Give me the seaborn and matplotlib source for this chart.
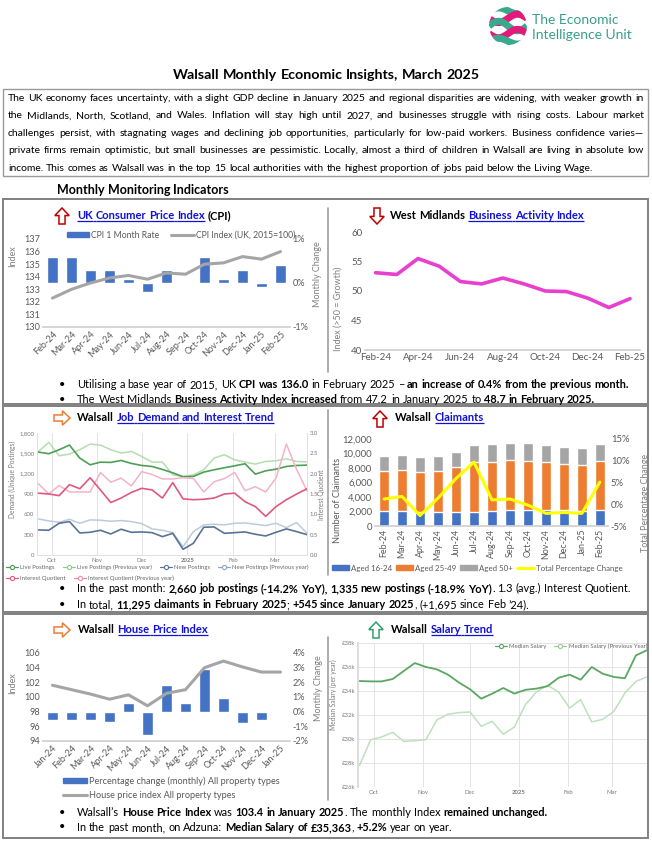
import numpy as np
import pandas as pd
import matplotlib
matplotlib.use('Agg')
import matplotlib.pyplot as plt
from matplotlib.patches import Rectangle, Polygon, Circle
from matplotlib.lines import Line2D
import seaborn as sns

# ---------------- data ----------------
cpi_months = ['Feb-24', 'Mar-24', 'Apr-24', 'May-24', 'Jun-24', 'Jul-24', 'Aug-24',
              'Sep-24', 'Oct-24', 'Nov-24', 'Dec-24', 'Jan-25', 'Feb-25']
cpi_rate = [0.6, 0.6, 0.3, 0.3, 0.1, -0.2, 0.3, 0.0, 0.6, 0.1, 0.3, -0.1, 0.4]
cpi_index = [132.3, 133.0, 133.5, 133.9, 134.1, 133.8, 134.3, 134.2, 135.0, 135.1, 135.6, 135.4, 136.0]

bai_months = cpi_months
bai_values = [53.1, 52.8, 55.5, 54.2, 51.6, 51.2, 52.2, 51.2, 50.0, 49.9, 48.8, 47.2, 48.7]

week_dates = ['2024-09-22', '2024-09-29', '2024-10-06', '2024-10-13', '2024-10-20', '2024-10-27',
              '2024-11-03', '2024-11-10', '2024-11-17', '2024-11-24', '2024-12-01', '2024-12-08',
              '2024-12-15', '2024-12-22', '2024-12-29', '2025-01-05', '2025-01-12', '2025-01-19',
              '2025-01-26', '2025-02-02', '2025-02-09', '2025-02-16', '2025-02-23', '2025-03-02',
              '2025-03-09', '2025-03-16', '2025-03-23']
live_postings = [1518, 1494, 1553, 1622, 1430, 1331, 1370, 1366, 1395, 1351, 1321, 1306, 1262, 1213,
                 1154, 1159, 1223, 1257, 1287, 1316, 1346, 1193, 1242, 1267, 1306, 1321, 1326]
live_postings_prev = [1528, 1661, 1464, 1489, 1553, 1637, 1622, 1553, 1504, 1528, 1454, 1370, 1370, 1183,
                      1159, 1183, 1257, 1430, 1479, 1405, 1370, 1341, 1380, 1390, 1420, 1380, 1375]
new_postings = [370, 365, 468, 493, 325, 335, 365, 311, 380, 335, 340, 330, 271, 320,
                84, 173, 409, 414, 320, 330, 340, 306, 281, 335, 385, 345, 300]
new_postings_prev = [532, 503, 483, 527, 468, 518, 513, 498, 508, 493, 463, 385, 365, 330,
                     123, 345, 444, 454, 444, 468, 473, 454, 434, 468, 404, 478, 320]
interest_q = [1.52, 1.50, 1.46, 1.73, 1.63, 1.90, 1.60, 1.29, 1.40, 1.54, 1.64, 1.60, 1.40, 1.78,
              1.38, 1.36, 1.37, 1.40, 1.50, 1.52, 1.31, 1.19, 0.95, 1.19, 1.36, 1.50, 1.63]
interest_q_prev = [1.75, 1.50, 1.71, 1.55, 1.55, 1.55, 2.03, 1.79, 1.89, 1.70, 2.05, 1.98, 1.87, 1.87,
                   1.90, 1.88, 1.55, 1.80, 1.88, 2.03, 1.58, 1.68, 1.55, 1.89, 2.73, 2.10, 1.58]

claim_months = cpi_months
claim_16_24 = [2080, 2080, 1990, 1990, 1990, 1990, 2080, 2210, 2210, 2210, 2170, 2080, 2210]
claim_25_49 = [5530, 5670, 5490, 5630, 6090, 6780, 6780, 6830, 6700, 6560, 6410, 6370, 6700]
claim_50_plus = [1990, 2030, 2030, 1980, 2080, 2400, 2400, 2400, 2490, 2400, 2350, 2300, 2385]
claim_pct_change = [1.2, 1.8, -2.6, 1.4, 5.9, 9.7, 1.0, 1.2, -0.2, -2.1, -1.9, -2.1, 5.1]

hpi_months = ['Jan-24', 'Feb-24', 'Mar-24', 'Apr-24', 'May-24', 'Jun-24', 'Jul-24',
              'Aug-24', 'Sep-24', 'Oct-24', 'Nov-24', 'Dec-24', 'Jan-25']
hpi_change = [-0.6, -0.6, -0.6, -0.7, 0.6, -1.6, 1.8, 0.6, 2.9, 0.9, -0.8, -0.6, -0.1]
hpi_index = [101.6, 101.0, 100.4, 99.7, 100.3, 98.8, 100.5, 101.0, 104.0, 104.9, 104.1, 103.4, 103.4]

salary_median = [34.83, 34.8, 34.8, 35.0, 35.67, 36.33, 36.0, 35.8, 35.36, 34.7, 34.14, 33.36, 33.78,
                 34.25, 33.78, 34.1, 34.2, 34.4, 35.1, 35.36, 34.94, 36.0, 35.44, 35.17, 35.06, 36.97, 37.4]
salary_median_prev = [27.8, 29.94, 30.17, 30.56, 29.8, 29.86, 29.94, 31.6, 32.06, 32.2, 32.25, 31.06, 31.47,
                      30.39, 31.0, 32.86, 33.92, 34.47, 33.92, 32.58, 33.28, 31.42, 31.64, 32.3, 33.83, 34.8, 35.17]

# ---------------- setup ----------------
sns.set_theme(style='white')
plt.rcParams['font.family'] = ['Lato', 'DejaVu Sans']
plt.rcParams['axes.unicode_minus'] = False

W, H = 652, 841
fig = plt.figure(figsize=(W / 100, H / 100), dpi=100)
fig.patch.set_facecolor('white')
ov = fig.add_axes([0, 0, 1, 1], zorder=10)
ov.set_xlim(0, W)
ov.set_ylim(H, 0)
ov.axis('off')
ov.patch.set_visible(False)
renderer = fig.canvas.get_renderer()

BLUE = '#4472C4'
ORANGE = '#ED7D31'
GREY = '#A5A5A5'
LINK = '#1010D8'
TICK = '#595959'


def px_axes(l, t, r, b):
    return fig.add_axes([l / W, 1 - b / H, (r - l) / W, (b - t) / H])


_cache = {}


def tw(s, fs, bold):
    key = (s, round(fs, 4), bold)
    if key not in _cache:
        t = ov.text(0, 0, s, fontsize=fs, fontweight='bold' if bold else 'normal')
        _cache[key] = t.get_window_extent(renderer).width
        t.remove()
    return _cache[key]


def adv(s, fs, b):
    return tw('n' + s + 'n', fs, b) - tw('nn', fs, b)


def spw(fs, b):
    return tw('n n', fs, b) - tw('nn', fs, b)


def items_of(segs):
    out = []
    pending = 0
    for text, st in segs:
        for i, c in enumerate(text.split(' ')):
            if i > 0:
                pending += 1
            if c:
                out.append((c, st, pending if out else 0))
                pending = 0
    return out


def natural(segs, fs):
    its = items_of(segs)
    return sum(adv(c, fs, st.get('b', False)) + n * spw(fs, st.get('b', False)) for c, st, n in its)


def rich(x, yc, segs, fs, width=None):
    its = items_of(segs)
    nsp = sum(n for _, _, n in its)
    extra = (width - natural(segs, fs)) / nsp if (width is not None and nsp) else 0.0
    fpx = fs * 100 / 72
    yb = yc + 0.36 * fpx
    uly = yb + 0.14 * fpx
    cx = x
    prev_ul = False
    for c, st, n in its:
        b = st.get('b', False)
        col = st.get('c', 'black')
        if n:
            gap = n * spw(fs, b) + n * extra
            if prev_ul and st.get('ul'):
                ov.plot([cx, cx + gap], [uly, uly], color=col, lw=0.9, solid_capstyle='butt')
            cx += gap
        a = adv(c, fs, b)
        ov.text(cx, yb, c, fontsize=fs, fontweight='bold' if b else 'normal',
                color=col, va='baseline', ha='left')
        if st.get('ul'):
            ov.plot([cx, cx + a], [uly, uly], color=col, lw=0.9, solid_capstyle='butt')
        cx += a
        prev_ul = st.get('ul', False)
    return cx


def fit(segs, target):
    fs = 10 * target / natural(segs, 10)
    for _ in range(2):
        fs = fs * target / natural(segs, fs)
    return fs


R = {}
B = {'b': True}
L = {'b': True, 'c': LINK, 'ul': True}

# ---------------- logo ----------------
lax = px_axes(489, 7, 527, 45)
lax.set_xlim(-1, 1)
lax.set_ylim(-1, 1)
lax.axis('off')
circ = Circle((0, 0), 1, transform=lax.transData, facecolor='none', edgecolor='none')
lax.add_patch(circ)
xs = np.linspace(-1, 1, 60)
TEAL = '#3AAA8F'
MAG = '#E5197A'
for y0, col, amp in [(0.8, TEAL, -0.15), (0.4, MAG, 0.22), (0.0, TEAL, -0.25),
                     (-0.4, MAG, 0.22), (-0.8, TEAL, -0.15)]:
    ln, = lax.plot(xs, y0 + amp * np.sin(np.pi * xs), color=col, lw=5.0, solid_capstyle='butt')
    ln.set_clip_path(circ)
ov.text(532, 20, 'The Economic', fontsize=10, color='#3A9E8C', va='center', ha='left')
ov.text(532, 35, 'Intelligence Unit', fontsize=10, color='#3A9E8C', va='center', ha='left')

# ---------------- header text ----------------
title_segs = [('Walsall Monthly Economic Insights, March 2025', B)]
rich(173, 74, title_segs, fit(title_segs, 308))

ov.add_patch(Rectangle((3, 89), 645, 87, facecolor='none', edgecolor='#9a9a9a', lw=1.0))
para = [
    'The UK economy faces uncertainty, with a slight GDP decline in January 2025 and regional disparities are widening, with weaker growth in',
    'the Midlands, North, Scotland, and Wales. Inflation will stay high until 2027, and businesses struggle with rising costs. Labour market',
    'challenges persist, with stagnating wages and declining job opportunities, particularly for low-paid workers. Business confidence varies\u2014',
    'private firms remain optimistic, but small businesses are pessimistic. Locally, almost a third of children in Walsall are living in absolute low',
    'income. This comes as Walsall was in the top 15 local authorities with the highest proportion of jobs paid below the Living Wage.',
]
pfs = min(fit([(l, R)], 634) for l in para[:4])
for i, l in enumerate(para):
    rich(8, 97 + i * 17.5, [(l, R)], pfs, width=636 if i < 4 else None)

mm = [('Monthly Monitoring Indicators', B)]
rich(57, 189, mm, fit(mm, 171))

# section boxes
for (t, b) in [(199, 404), (406, 612), (614, 838)]:
    ov.add_patch(Rectangle((3, t), 645, b - t, facecolor='none', edgecolor='#808080', lw=1.4))
for (t, b) in [(208, 372), (410, 575), (637, 800)]:
    ov.plot([328, 328], [t, b], color='#a0a0a0', lw=1.2)


def arrow(cx, cy, direction, color, s=16):
    h = s / 2.0
    up = [(0, -h), (h * 0.9, -h * 0.05), (h * 0.38, -h * 0.05), (h * 0.38, h), (-h * 0.38, h),
          (-h * 0.38, -h * 0.05), (-h * 0.9, -h * 0.05)]
    if direction == 'up':
        pts = up
    elif direction == 'down':
        pts = [(x, -y) for x, y in up]
    else:
        pts = [(-y, x) for x, y in up]
    ov.add_patch(Polygon([(cx + x, cy + y) for x, y in pts], closed=True, facecolor='white',
                         edgecolor=color, lw=1.1))


tfs = fit([('UK Consumer Price Index', L), (' (CPI)', B)], 153)
arrow(62, 216, 'up', '#C00000')
rich(77, 215, [('UK Consumer Price Index', L), (' (CPI)', B)], tfs)
arrow(377, 216, 'down', '#C00000')
rich(390, 215, [('West Midlands ', B), ('Business Activity Index', L)], tfs)
arrow(62, 418, 'right', ORANGE)
rich(77, 417, [('Walsall ', B), ('Job Demand and Interest Trend', L)], tfs)
arrow(380, 419, 'up', '#C00000')
rich(395, 417, [('Walsall ', B), ('Claimants', L)], tfs)
arrow(62, 630, 'right', ORANGE)
rich(78, 629, [('Walsall ', B), ('House Price Index', L)], tfs)
arrow(376, 630, 'up', '#2E9E6B')
rich(391, 629, [('Walsall ', B), ('Salary Trend', L)], tfs)

# bullets
b_s1 = [[('Utilising a base year of 2015, UK ', R), ('CPI was 136.0', B), (' in February 2025 \u2013 ', R),
         ('an increase of 0.4% from the previous month.', B)],
        [('The West Midlands ', R), ('Business Activity Index increased', B), (' from 47.2 in January 2025 to ', R),
         ('48.7 in February 2025.', B)]]
b_s2 = [[('In the past month: ', R), ('2,660 job postings (-14.2% YoY), 1,335 new postings (-18.9% YoY)', B),
         ('. 1.3 (avg.) Interest Quotient.', R)],
        [('In total, ', R), ('11,295 claimants in February 2025', B), ('; ', R), ('+545 since January 2025', B),
         (', (+1,695 since Feb \u201924).', R)]]
b_s3 = [[('Walsall\u2019s ', R), ('House Price Index', B), (' was ', R), ('103.4 in January 2025', B),
         ('. The monthly Index ', R), ('remained unchanged.', B)],
        [('In the past month, on Adzuna: ', R), ('Median Salary of \u00a335,363', B), (', ', R), ('+5.2%', B),
         (' year on year.', R)]]
bfs = min(fit(b_s1[0], 551), fit(b_s2[0], 560))
for segs_list, ys in [(b_s1, (384, 399)), (b_s2, (588, 604)), (b_s3, (812, 827))]:
    for segs, y in zip(segs_list, ys):
        ov.text(62, y, '\u2022', fontsize=bfs, va='center', ha='center', color='black')
        rich(77, y, segs, bfs)


def clean(ax, fs, color=TICK):
    ax.tick_params(length=0, labelsize=fs, labelcolor=color, pad=2)
    for s in ax.spines.values():
        s.set_visible(False)
    ax.grid(False)


def ylab(ax, text, fs, color, side, cx, cy, l, t, r, b):
    off = fs * 100 / 72 * 0.55
    xpix = cx + off if side == 'left' else cx - off
    ax.set_ylabel(text, fontsize=fs, color=color)
    ax.yaxis.set_label_coords((xpix - l) / (r - l), (b - cy) / (b - t))


# ---------------- CPI ----------------
box = (43, 239, 290, 327)
ax = px_axes(*box)
axb = ax.twinx()
sns.barplot(x=cpi_months, y=cpi_rate, ax=axb, color=BLUE, saturation=1, width=0.56, errorbar=None)
sns.lineplot(x=np.arange(len(cpi_index)), y=cpi_index, ax=ax, color=GREY, lw=2.2)
ax.set_zorder(axb.get_zorder() + 1)
ax.patch.set_visible(False)
ax.set_xlim(-0.5, 12.5)
ax.set_ylim(130, 137)
axb.set_ylim(-1, 1)
ax.set_yticks(range(130, 138))
axb.set_yticks([-1, 0, 1])
axb.set_yticklabels(['-1%', '0%', '1%'])
ax.set_xticks(range(13))
ax.set_xticklabels(cpi_months, rotation=45, ha='right', rotation_mode='anchor')
for a in (ax, axb):
    clean(a, 6.6)
    a.set_xlabel('')
ax.spines['bottom'].set_visible(True)
ax.spines['bottom'].set_color('#D0D0D0')
ylab(ax, 'Index', 6.5, '#7f7f7f', 'left', 12, 256, *box)
ylab(axb, 'Monthly Change', 6.5, '#7f7f7f', 'right', 318, 274, *box)
ax.legend(handles=[Rectangle((0, 0), 1, 1, color=BLUE), Line2D([], [], color=GREY, lw=2.2)],
          labels=['CPI 1 Month Rate', 'CPI Index (UK, 2015=100)'], loc='center',
          bbox_to_anchor=(181 / W, 1 - 235 / H), bbox_transform=fig.transFigure, ncol=2, frameon=False,
          fontsize=6.2, handlelength=2.6, handleheight=0.55, columnspacing=1.4, handletextpad=0.2,
          labelcolor=TICK, borderpad=0, borderaxespad=0)

# ---------------- Business activity ----------------
box = (365, 232, 640, 350)
ax = px_axes(*box)
sns.lineplot(x=np.arange(len(bai_values)), y=bai_values, ax=ax, color='#E93FD0', lw=2.6)
ax.set_xlim(-0.47, 12.47)
ax.set_ylim(40, 60)
ax.set_yticks(range(40, 61, 5))
ax.set_xticks(range(0, 13, 2))
ax.set_xticklabels(bai_months[::2])
clean(ax, 7)
ax.set_xticks(np.arange(-0.5, 13, 2), minor=True)
ax.tick_params(axis='x', which='minor', length=3, color='#D0D0D0', direction='out')
ax.spines['bottom'].set_visible(True)
ax.spines['bottom'].set_color('#D0D0D0')
ylab(ax, 'Index (>50 = Growth)', 6.5, '#7f7f7f', 'left', 338, 309, *box)

# ---------------- Job demand ----------------
dates = pd.to_datetime(week_dates)
box = (37, 433, 307, 555)
ax = px_axes(*box)
ax2 = ax.twinx()
sns.lineplot(x=dates, y=live_postings_prev, ax=ax, color='#B5DDB0', lw=1.1)
sns.lineplot(x=dates, y=new_postings_prev, ax=ax, color='#BCCADB', lw=1.1)
sns.lineplot(x=dates, y=live_postings, ax=ax, color='#4E9F55', lw=1.2)
sns.lineplot(x=dates, y=new_postings, ax=ax, color='#5A7394', lw=1.2)
sns.lineplot(x=dates, y=interest_q_prev, ax=ax2, color='#F3B3C6', lw=1.1)
sns.lineplot(x=dates, y=interest_q, ax=ax2, color='#E0587F', lw=1.2)
xlo, xhi = pd.Timestamp('2024-09-21'), pd.Timestamp('2025-03-23')
ax.set_xlim(xlo, xhi)
ax.set_ylim(0, 1800)
ax2.set_ylim(0, 3)
ax.set_yticks(range(0, 1801, 300))
ax.set_yticklabels(['0', '300', '600', '900', '1,200', '1,500', '1,800'])
ax2.set_yticks(np.arange(0, 3.01, 0.5))
ax2.set_yticklabels(['0.0', '0.5', '1.0', '1.5', '2.0', '2.5', '3.0'])
mticks = pd.to_datetime(['2024-10-01', '2024-11-01', '2024-12-01', '2025-01-01', '2025-02-01', '2025-03-01'])
ax.set_xticks(mticks)
ax.set_xticklabels(['Oct', 'Nov', 'Dec', '2025', 'Feb', 'Mar'])
for a in (ax, ax2):
    clean(a, 4.3, '#7a7a7a')
    a.set_xlabel('')
ax.get_xticklabels()[3].set_fontweight('bold')
ax.grid(axis='x', color='#E3E3E3', lw=0.7)
for sp in ['left', 'right', 'bottom']:
    ax.spines[sp].set_visible(True)
    ax.spines[sp].set_color('#E0E0E0')
    ax.spines[sp].set_linewidth(0.7)
ylab(ax, 'Demand (Unique Postings)', 4.8, '#7a7a7a', 'left', 12, 479, *box)
ylab(ax2, 'Interest Quotient', 4.8, '#7a7a7a', 'right', 322, 495, *box)


def mk(c):
    return Line2D([], [], color=c, lw=0.9, marker='o', markersize=3, markerfacecolor='white',
                  markeredgecolor=c, markeredgewidth=0.8)


leg1 = ax.legend(handles=[mk('#4E9F55'), mk('#8CC98A'), mk('#5A7394'), mk('#8FA6C2')],
                 labels=['Live Postings', 'Live Postings (Previous year)', 'New Postings',
                         'New Postings (Previous year)'],
                 loc='center left', bbox_to_anchor=(6 / W, 1 - 567 / H), bbox_transform=fig.transFigure,
                 ncol=4, frameon=False, fontsize=4.3, handlelength=2.0, handletextpad=0.4,
                 columnspacing=1.3, labelcolor='#666666', borderpad=0, borderaxespad=0)
ax.add_artist(leg1)
ax.legend(handles=[mk('#E0587F'), mk('#EE8FAA')],
          labels=['Interest Quotient', 'Interest Quotient (Previous year)'],
          loc='center left', bbox_to_anchor=(6 / W, 1 - 578 / H), bbox_transform=fig.transFigure,
          ncol=2, frameon=False, fontsize=4.3, handlelength=2.0, handletextpad=0.4,
          columnspacing=1.3, labelcolor='#666666', borderpad=0, borderaxespad=0)

# ---------------- Claimants ----------------
box = (375, 439, 608, 526)
ax = px_axes(*box)
ax2 = ax.twinx()
tot_all = np.array(claim_16_24) + np.array(claim_25_49) + np.array(claim_50_plus)
tot_young = np.array(claim_16_24) + np.array(claim_25_49)
sns.barplot(x=claim_months, y=tot_all, ax=ax, color=GREY, saturation=1, width=0.6, errorbar=None)
sns.barplot(x=claim_months, y=tot_young, ax=ax, color=ORANGE, saturation=1, width=0.6, errorbar=None)
sns.barplot(x=claim_months, y=claim_16_24, ax=ax, color=BLUE, saturation=1, width=0.6, errorbar=None)
sns.lineplot(x=np.arange(len(claim_pct_change)), y=claim_pct_change, ax=ax2, color='#FFFF00', lw=2.2)
ax.set_xlim(-0.5, 12.45)
ax.set_ylim(0, 12000)
ax2.set_ylim(-5, 15)
ax.set_yticks(range(0, 12001, 2000))
ax.set_yticklabels(['0', '2,000', '4,000', '6,000', '8,000', '10,000', '12,000'])
ax2.set_yticks([-5, 0, 5, 10, 15])
ax2.set_yticklabels(['-5%', '0%', '5%', '10%', '15%'])
ax.set_xticks(range(13))
ax.set_xticklabels(claim_months, rotation=90)
for a in (ax, ax2):
    clean(a, 6.8)
    a.set_xlabel('')
ax.tick_params(axis='x', labelsize=6.4)
ax.spines['bottom'].set_visible(True)
ax.spines['bottom'].set_color('#D0D0D0')
ylab(ax, 'Number of Claimants', 6.6, TICK, 'left', 337, 500, *box)
ylab(ax2, 'Total Percentage Change', 6.4, '#7f7f7f', 'right', 646, 503, *box)
ax.legend(handles=[Rectangle((0, 0), 1, 1, color=BLUE), Rectangle((0, 0), 1, 1, color=ORANGE),
                   Rectangle((0, 0), 1, 1, color=GREY), Line2D([], [], color='#FFFF00', lw=2.2)],
          labels=['Aged 16-24', 'Aged 25-49', 'Aged 50+', 'Total Percentage Change'],
          loc='center left', bbox_to_anchor=(332 / W, 1 - 568 / H), bbox_transform=fig.transFigure,
          ncol=4, frameon=False, fontsize=5.7, handlelength=2.1, handleheight=0.6, handletextpad=0.25,
          columnspacing=0.55, labelcolor=TICK, borderpad=0, borderaxespad=0)

# ---------------- House price ----------------
box = (43, 653, 290, 741)
ax = px_axes(*box)
axb = ax.twinx()
sns.barplot(x=hpi_months, y=hpi_change, ax=axb, color=BLUE, saturation=1, width=0.55, errorbar=None)
sns.lineplot(x=np.arange(len(hpi_index)), y=hpi_index, ax=ax, color=GREY, lw=2.2)
ax.set_zorder(axb.get_zorder() + 1)
ax.patch.set_visible(False)
ax.set_xlim(-0.5, 12.5)
ax.set_ylim(94, 106)
axb.set_ylim(-2, 4)
ax.set_yticks(range(94, 107, 2))
axb.set_yticks(range(-2, 5))
axb.set_yticklabels(['-2%', '-1%', '0%', '1%', '2%', '3%', '4%'])
ax.set_xticks(range(13))
ax.set_xticklabels(hpi_months, rotation=45, ha='right', rotation_mode='anchor')
for a in (ax, axb):
    clean(a, 6.6)
    a.set_xlabel('')
ax.spines['bottom'].set_visible(True)
ax.spines['bottom'].set_color('#D0D0D0')
ylab(ax, 'Index', 6.5, '#7f7f7f', 'left', 12, 683, *box)
ylab(axb, 'Monthly Change', 6.5, '#7f7f7f', 'right', 319, 688, *box)
ax.legend(handles=[Rectangle((0, 0), 1, 1, color=BLUE), Line2D([], [], color=GREY, lw=2.2)],
          labels=['Percentage change (monthly) All property types', 'House price index All property types'],
          loc='upper left', bbox_to_anchor=(63 / W, 1 - 776 / H), bbox_transform=fig.transFigure,
          ncol=1, frameon=False, fontsize=6.6, handlelength=2.6, handleheight=0.55, handletextpad=0.2,
          labelspacing=0.6, labelcolor=TICK, borderpad=0, borderaxespad=0)

# ---------------- Salary ----------------
box = (358, 643, 647, 787)
ax = px_axes(*box)
sns.lineplot(x=dates, y=salary_median_prev, ax=ax, color='#BFE0BD', lw=1.1)
sns.lineplot(x=dates, y=salary_median, ax=ax, color='#5AA764', lw=1.3)
ax.set_xlim(xlo, xhi)
ax.set_ylim(26, 38)
ax.set_yticks(range(26, 39, 2))
ax.set_yticklabels(['\u00a3%dk' % v for v in range(26, 39, 2)])
ax.set_xticks(mticks)
ax.set_xticklabels(['Oct', 'Nov', 'Dec', '2025', 'Feb', 'Mar'])
clean(ax, 4.3, '#7a7a7a')
ax.set_xlabel('')
ax.get_xticklabels()[3].set_fontweight('bold')
ax.grid(True, color='#E3E3E3', lw=0.7)
ax.spines['left'].set_visible(True)
ax.spines['left'].set_color('#D8D8D8')
ylab(ax, 'Median Salary (per year)', 4.8, '#7a7a7a', 'left', 333, 695, *box)
ax.legend(handles=[mk('#5AA764'), mk('#9ACD97')], labels=['Median Salary', 'Median Salary (Previous Year)'],
          loc='upper right', bbox_to_anchor=(1.0, 0.995), ncol=2, frameon=False, fontsize=4.3,
          handlelength=2.0, handletextpad=0.4, columnspacing=1.3, labelcolor='#666666',
          borderpad=0, borderaxespad=0)

fig.savefig('out.png', dpi=100, facecolor='white')
